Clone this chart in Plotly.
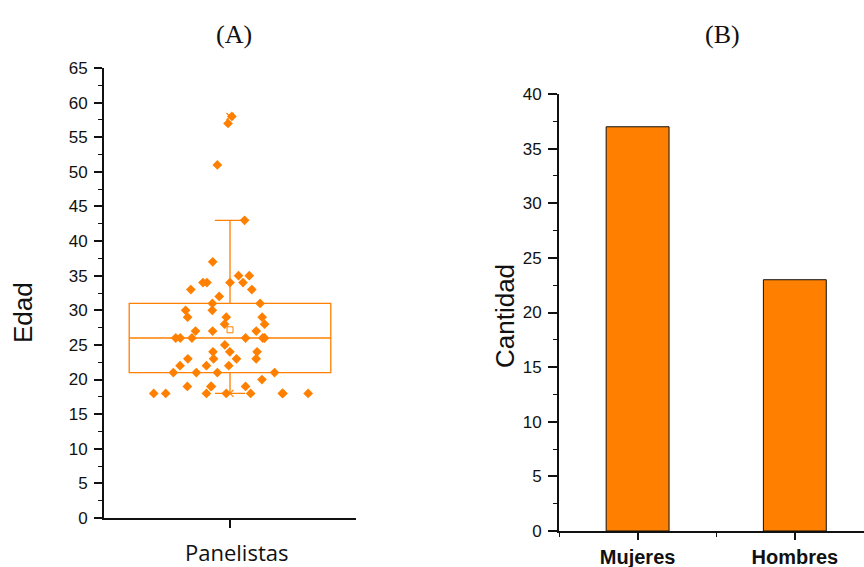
import numpy as np
import plotly.graph_objects as go
from plotly.subplots import make_subplots

# Panel A: ages of panelists
edad_valores = [18, 19, 20, 21, 22, 23, 24, 25, 26, 27, 28, 29, 30, 31, 32, 33, 34, 35, 37, 43, 51, 57, 58]
edad_conteo  = [8,  4,  1,  4,  3,  4,  3,  1,  6,  3,  2,  3,  2,  2,  1,  2,  4,  2,  1,  1,  1,  1,  1]
edades = [v for v, c in zip(edad_valores, edad_conteo) for _ in range(c)]

# Panel B: counts by gender
categorias = ["Mujeres", "Hombres"]
cantidades = [37, 23]

ORANGE = "#FF8000"
INK = "#111111"
TICKFONT = dict(family="Liberation Sans", size=17, color=INK)

fig = make_subplots(rows=1, cols=2)

fig.add_trace(go.Box(
    y=edades, x0=0, width=0.8, name="Panelistas",
    boxpoints="all", jitter=1.0, pointpos=0,
    marker=dict(symbol="diamond", size=7.5, color=ORANGE),
    line=dict(color=ORANGE, width=1.3),
    fillcolor="rgba(0,0,0,0)", whiskerwidth=0.15,
), row=1, col=1)

arr = np.array(edades)
fig.add_trace(go.Scatter(
    x=[0], y=[arr.mean()], mode="markers",
    marker=dict(symbol="square-open", size=6, color=ORANGE, line=dict(width=1)),
), row=1, col=1)
fig.add_trace(go.Scatter(
    x=[0, 0], y=[arr.max(), arr.min()], mode="markers",
    marker=dict(symbol="x-thin-open", size=7, color=ORANGE, line=dict(width=1.2, color=ORANGE)),
), row=1, col=1)

fig.add_trace(go.Bar(
    x=list(range(len(categorias))), y=cantidades, width=0.4,
    marker=dict(color=ORANGE, line=dict(color=INK, width=1)),
), row=1, col=2)

axis_common = dict(showline=True, linecolor=INK, linewidth=1.8, ticks="outside",
                   tickcolor=INK, tickwidth=1.5, showgrid=False, zeroline=False,
                   automargin=False)

fig.update_xaxes(domain=[104/864, 356/864], range=[-0.5, 0.5], tickvals=[0], ticktext=[""],
                 ticklen=8, tickfont=TICKFONT, **axis_common, row=1, col=1)
fig.update_yaxes(domain=[49/567, 499/567], range=[0, 65], dtick=5, tick0=0, ticklen=8,
                 tickfont=TICKFONT, ticklabelstandoff=3,
                 minor=dict(ticks="outside", dtick=2.5, ticklen=4, tickcolor=INK, tickwidth=1.2),
                 **axis_common, row=1, col=1)

fig.update_xaxes(domain=[559/864, 1.0], range=[-0.5, 1.44], tickvals=[0, 1],
                 ticktext=["<b>" + c + "</b>" for c in categorias],
                 ticklen=7, tickfont=dict(family="Liberation Sans", size=20, color=INK),
                 minor=dict(ticks="outside", tickvals=[-0.5, 0.5], ticklen=4, tickcolor=INK, tickwidth=1.2),
                 **axis_common, row=1, col=2)
fig.update_yaxes(domain=[36/567, 473/567], range=[0, 40], dtick=5, tick0=0, ticklen=9,
                 tickfont=TICKFONT, ticklabelstandoff=3,
                 minor=dict(ticks="outside", dtick=2.5, ticklen=4, tickcolor=INK, tickwidth=1.2),
                 **axis_common, row=1, col=2)

annots = [
    dict(text="(A)", x=234/864, y=1-34/567, font=dict(family="Liberation Serif", size=26, color=INK)),
    dict(text="(B)", x=722/864, y=1-34/567, font=dict(family="Liberation Serif", size=26, color=INK)),
    dict(text="Panelistas", x=236/864, y=1-552/567, font=dict(family="Open Sans", size=22, color=INK)),
    dict(text="Edad", x=23/864, y=1-313/567, textangle=-90, font=dict(family="Liberation Sans", size=26, color=INK)),
    dict(text="Cantidad", x=505/864, y=1-316/567, textangle=-90, font=dict(family="Liberation Sans", size=26, color=INK)),
]
for a in annots:
    fig.add_annotation(xref="paper", yref="paper", showarrow=False, xanchor="center", yanchor="middle", **a)

fig.update_layout(width=864, height=567, margin=dict(l=0, r=0, t=0, b=0),
                  plot_bgcolor="white", paper_bgcolor="white", showlegend=False)

fig.write_html("out.html")
